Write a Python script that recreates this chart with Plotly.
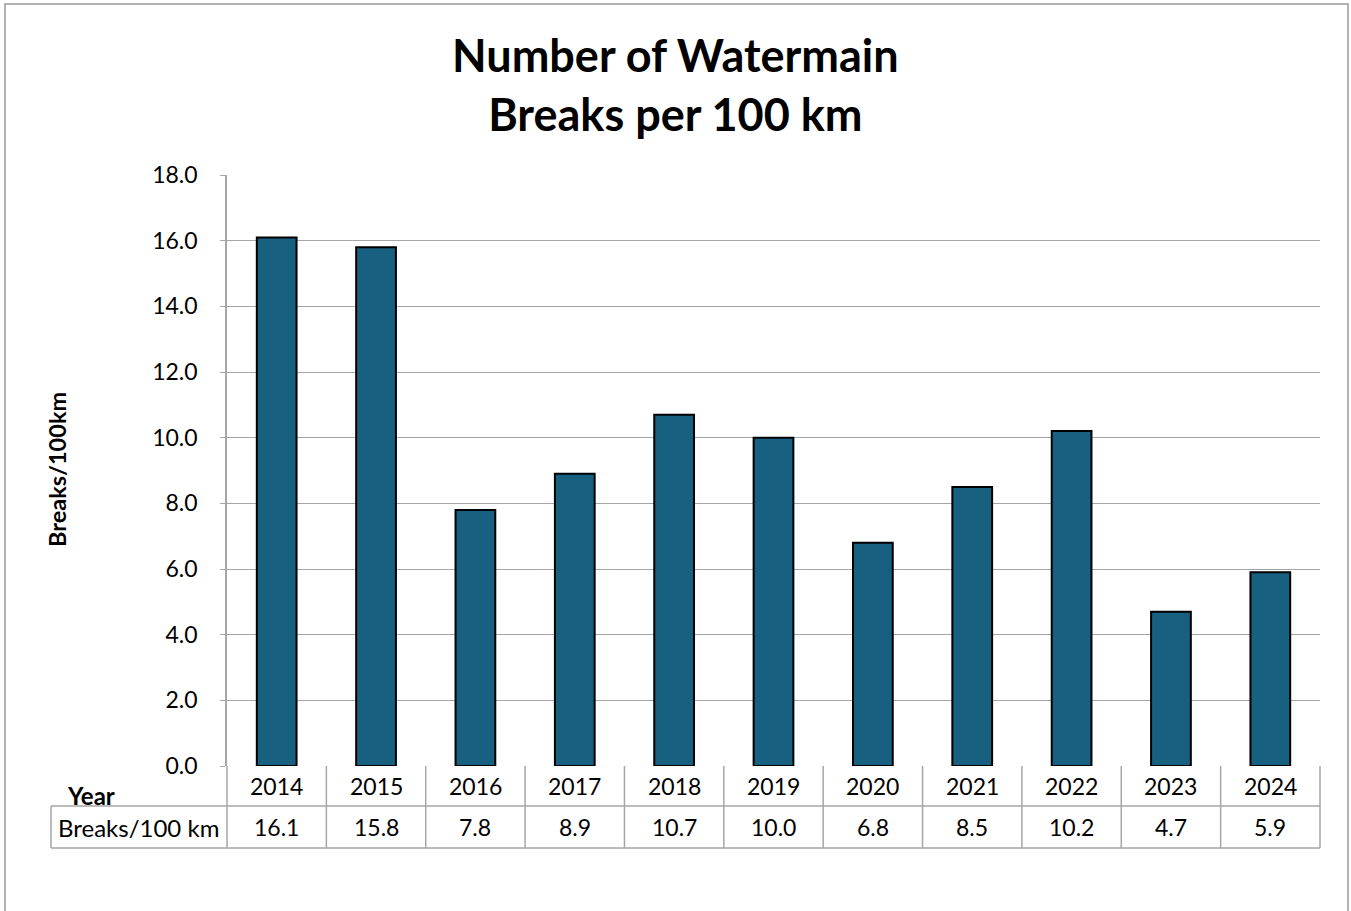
import plotly.graph_objects as go

years = ["2014", "2015", "2016", "2017", "2018", "2019", "2020", "2021", "2022", "2023", "2024"]
breaks_per_100km = [16.1, 15.8, 7.8, 8.9, 10.7, 10.0, 6.8, 8.5, 10.2, 4.7, 5.9]
y_ticks = [0, 2, 4, 6, 8, 10, 12, 14, 16, 18]

W, H = 1351, 911
L, R, T, B = 227, 31, 175, 145
PW, PH = W - L - R, H - T - B
FONT = "Lato"
GRID = "#a6a6a6"
BAR = "#17607f"


def px_x(px):
    return (px - L) / PW


def px_y(py):
    return (H - B - py) / PH


fig = go.Figure()
fig.add_trace(go.Bar(
    x=years, y=breaks_per_100km, width=0.4,
    marker=dict(color=BAR, line=dict(color="black", width=2)),
    hoverinfo="x+y", showlegend=False,
))

shapes = []
n = len(years)
row1 = px_y(806)
row2 = px_y(848)
# horizontal table lines
for yy, x0 in [(row1, px_x(51)), (row2, px_x(51))]:
    shapes.append(dict(type="line", xref="paper", yref="paper", x0=x0, x1=1, y0=yy, y1=yy,
                       line=dict(color=GRID, width=1.5)))
# vertical table lines
for k in range(n + 1):
    shapes.append(dict(type="line", xref="paper", yref="paper", x0=k / n, x1=k / n, y0=0, y1=row2,
                       line=dict(color=GRID, width=1.5)))
shapes.append(dict(type="line", xref="paper", yref="paper", x0=px_x(51), x1=px_x(51), y0=row1, y1=row2,
                   line=dict(color=GRID, width=1.5)))
# outer chart border
shapes.append(dict(type="rect", xref="paper", yref="paper", x0=px_x(5), x1=px_x(1348), y0=px_y(920), y1=px_y(4),
                   line=dict(color="#9a9a9a", width=1.5), fillcolor="rgba(0,0,0,0)", layer="below"))

annotations = []
for i, (yr, v) in enumerate(zip(years, breaks_per_100km)):
    xc = (i + 0.5) / n
    annotations.append(dict(x=xc, xref="paper", y=px_y(786), yref="paper", text=yr, showarrow=False,
                            font=dict(family=FONT, size=23, color="black"), xanchor="center", yanchor="middle"))
    annotations.append(dict(x=xc, xref="paper", y=px_y(827), yref="paper", text=f"{v:.1f}", showarrow=False,
                            font=dict(family=FONT, size=23, color="black"), xanchor="center", yanchor="middle"))
annotations.append(dict(x=px_x(138), xref="paper", y=px_y(827), yref="paper", text="Breaks/100 km",
                        showarrow=False, font=dict(family=FONT, size=24, color="black"),
                        xanchor="center", yanchor="middle"))
annotations.append(dict(x=px_x(65), xref="paper", y=px_y(795), yref="paper", text="<b>Year</b>",
                        showarrow=False, font=dict(family=FONT, size=24, color="black"),
                        xanchor="left", yanchor="middle"))
annotations.append(dict(x=px_x(57), xref="paper", y=px_y(470), yref="paper", text="<b>Breaks/100km</b>",
                        showarrow=False, textangle=-90, font=dict(family=FONT, size=23.5, color="black"),
                        xanchor="center", yanchor="middle"))
# chart title
annotations.append(dict(x=px_x(W / 2), xref="paper", y=px_y(85), yref="paper",
                        text="<b>Number of Watermain<br>Breaks per 100 km</b>",
                        showarrow=False, font=dict(family=FONT, size=45, color="black"),
                        xanchor="center", yanchor="middle", align="center"))

fig.update_layout(
    width=W, height=H,
    margin=dict(l=L, r=R, t=T, b=B),
    paper_bgcolor="white", plot_bgcolor="white",
    font=dict(family=FONT, color="black"),
    xaxis=dict(type="category", categoryorder="array", categoryarray=years, range=[-0.5, n - 0.5],
               showticklabels=False, showgrid=False, zeroline=False, showline=False, ticks=""),
    yaxis=dict(range=[0, 18], tickvals=y_ticks, tickformat=".1f", showgrid=True, gridcolor=GRID, gridwidth=1,
               showline=True, linecolor=GRID, linewidth=1.5, ticks="outside", ticklen=5, tickcolor=GRID,
               ticklabelstandoff=18, zeroline=False,
               tickfont=dict(family=FONT, size=23, color="black")),
    shapes=shapes, annotations=annotations,
    bargap=0.6,
)

fig.write_html("out.html")
